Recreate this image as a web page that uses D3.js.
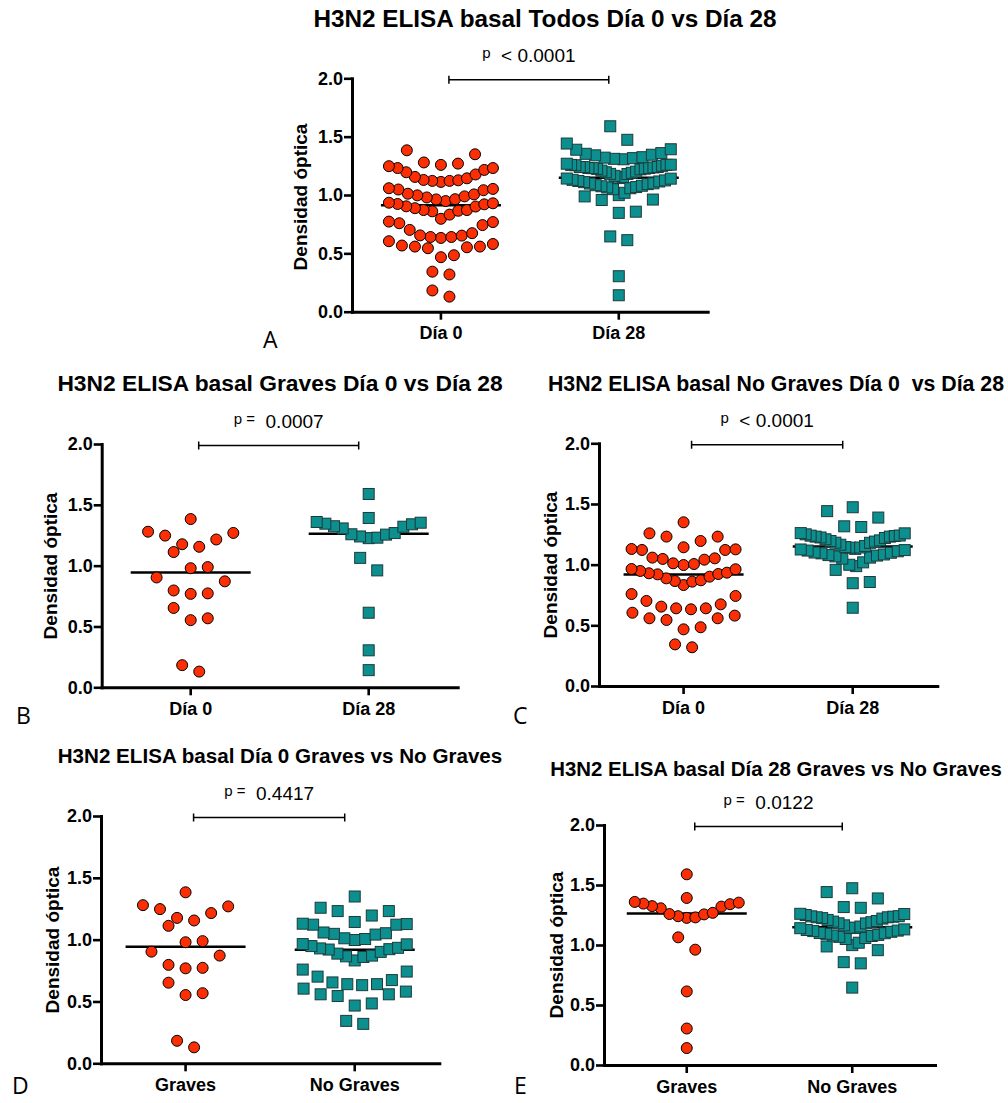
<!DOCTYPE html>
<html><head><meta charset="utf-8">
<script src="https://cdn.jsdelivr.net/npm/d3@7"></script>
<style>body{margin:0;background:#fff}svg{display:block}</style>
</head><body>
<svg id="c" width="1008" height="1103"></svg>
<script>
// ---------------- DATA ----------------
const gravesDia0 = [1.383, 1.269, 1.215, 1.155, 1.176, 1.112, 1.247, 1.279, 0.988, 0.979, 0.903, 0.871, 0.796, 0.768, 0.772, 0.652, 0.567, 0.552, 0.129, 0.182];
const gravesDia28 = [1.589, 1.392, 1.359, 1.345, 1.324, 1.306, 1.258, 1.240, 1.226, 1.230, 1.255, 1.268, 1.320, 1.340, 1.353, 1.064, 0.961, 0.613, 0.304, 0.141];
const noGravesDia0 = [1.349, 1.258, 1.231, 1.231, 1.195, 1.143, 1.129, 1.121, 1.121, 1.126, 1.058, 1.047, 1.052, 1.041, 1.011, 0.997, 1.005, 0.962, 0.934, 0.920, 0.964, 0.948, 0.923, 0.901, 0.887, 0.860, 0.832, 0.865, 0.871, 0.758, 0.742, 0.701, 0.654, 0.640, 0.640, 0.673, 0.632, 0.604, 0.558, 0.544, 0.558, 0.580, 0.467, 0.484, 0.319, 0.343, 0.929];
const noGravesDia28 = [1.473, 1.388, 1.441, 1.310, 1.316, 1.250, 1.236, 1.231, 1.209, 1.190, 1.181, 1.195, 1.224, 1.231, 1.239, 1.258, 1.164, 1.141, 1.116, 1.093, 1.084, 1.058, 1.019, 1.068, 1.079, 1.098, 1.140, 1.154, 0.988, 0.957, 0.999, 0.857, 0.847, 0.645, 1.100, 1.120, 1.130, 1.075, 1.050, 1.110, 1.125, 1.145, 1.200, 1.220, 1.240, 1.260, 1.180];
const todosDia0 = gravesDia0.concat(noGravesDia0);
const todosDia28 = gravesDia28.concat(noGravesDia28);

const yTicks = [0, 0.5, 1.0, 1.5, 2.0];
const dayCategories = ["Día 0", "Día 28"];
const groupCategories = ["Graves", "No Graves"];
const panelLetters = ["A", "B", "C", "D", "E"];
const panelTitles = [
  "H3N2 ELISA basal Todos Día 0 vs Día 28",
  "H3N2 ELISA basal Graves Día 0 vs Día 28",
  "H3N2 ELISA basal No Graves Día 0  vs Día 28",
  "H3N2 ELISA basal Día 0 Graves vs No Graves",
  "H3N2 ELISA basal Día 28 Graves vs No Graves"
];
const pPrefix = ["p", "p =", "p", "p =", "p ="];
const pValues = ["  < 0.0001", "  0.0007", "  < 0.0001", "  0.4417", "  0.0122"];
// median lines [first group, second group]
const medianLines = [[0.912, 1.148], [0.943, 1.262], [0.918, 1.150], [0.943, 0.918], [1.262, 1.147]];
const yAxisTitle = "Densidad óptica";

// ---------------- LAYOUT ----------------
const panels = [
  {cats: dayCategories,   series: [todosDia0, todosDia28],     x0: 352,   x1: 707.7, yTop: 78.3, yBot: 311.7,
   title: [545, 27, 24.3], ytitle: [307, 197], letter: [263, 348]},
  {cats: dayCategories,   series: [gravesDia0, gravesDia28],   x0: 101.7, x1: 457.7, yTop: 444,  yBot: 687.3,
   title: [280, 391, 22.8], ytitle: [57, 566], letter: [16, 724]},
  {cats: dayCategories,   series: [noGravesDia0, noGravesDia28], x0: 599, x1: 937.3, yTop: 443.3, yBot: 686,
   title: [776, 391, 21.3], ytitle: [556.5, 565], letter: [513, 724]},
  {cats: groupCategories, series: [gravesDia0, noGravesDia0],  x0: 101,   x1: 439.3, yTop: 816,  yBot: 1063.3,
   title: [280, 763, 20.6], ytitle: [59, 940], letter: [12, 1094]},
  {cats: groupCategories, series: [gravesDia28, noGravesDia28], x0: 604, x1: 935,   yTop: 825,  yBot: 1065,
   title: [776, 776, 20.4], ytitle: [563, 945], letter: [514, 1094]}
];

const FONT = "'Liberation Sans', Arial, Helvetica, sans-serif";
const RED = "#fc2e04", TEAL = "#0b8f8f", TEAL_STROKE = "#1e3a3a";
const SYM = 11;

const svg = d3.select("#c");

// Prism-like row arrangement: points grouped into horizontal rows, lowest value in the
// centre, alternating outward; spread apart when room, compressed when crowded.
function swarm(values, y, cx, s, rowH, maxW) {
  const pts = values.map(v => ({v, py: y(v)})).sort((a, b) => a.v - b.v);
  const rows = []; let cur = null;
  for (const p of pts) {
    if (!cur || (cur.start - p.py) > rowH) { cur = {start: p.py, items: []}; rows.push(cur); }
    cur.items.push(p);
  }
  rows.forEach(r => {
    const n = r.items.length;
    const sp = n > 1 ? Math.min(s * 1.55, maxW / (n - 1)) : 0;
    r.items.forEach((p, k) => {
      let slot;
      if (n % 2 === 1) slot = k === 0 ? 0 : (k % 2 === 1 ? (k + 1) / 2 : -k / 2);
      else { const m = Math.floor(k / 2); slot = k % 2 === 0 ? m + 0.5 : -(m + 0.5); }
      p.px = cx + slot * sp;
    });
  });
  return pts;
}

panels.forEach((P, i) => {
  const g = svg.append("g");
  const x = d3.scaleBand().domain(P.cats).range([P.x0, P.x1]).padding(0);
  const y = d3.scaleLinear().domain([0, 2]).range([P.yBot, P.yTop]);
  const cx = c => x(c) + x.bandwidth() / 2;

  // title
  g.append("text").attr("x", P.title[0]).attr("y", P.title[1])
    .attr("text-anchor", "middle").attr("font-family", FONT).attr("font-weight", "bold")
    .attr("font-size", P.title[2]).style("white-space", "pre").text(panelTitles[i]);

  // y axis
  const ya = g.append("g").attr("transform", `translate(${P.x0},0)`)
    .call(d3.axisLeft(y).tickValues(yTicks).tickFormat(d3.format(".1f")).tickSize(8).tickSizeOuter(0).tickPadding(1));
  // x axis
  const xa = g.append("g").attr("transform", `translate(0,${P.yBot})`)
    .call(d3.axisBottom(x).tickSize(8).tickSizeOuter(0).tickPadding(7));
  [ya, xa].forEach(a => {
    a.select(".domain").attr("stroke", "#000").attr("stroke-width", 3).attr("stroke-linecap", "square");
    a.selectAll(".tick line").attr("stroke", "#000").attr("stroke-width", 2.6);
    a.selectAll(".tick text").attr("font-family", FONT).attr("font-weight", "bold")
      .attr("font-size", 18).attr("fill", "#000");
  });

  // y axis title
  g.append("text").attr("transform", `translate(${P.ytitle[0]},${P.ytitle[1]}) rotate(-90)`)
    .attr("text-anchor", "middle").attr("font-family", FONT).attr("font-weight", "bold")
    .attr("font-size", 19).text(yAxisTitle);

  // median lines
  P.cats.forEach((c, j) => {
    g.append("line").attr("x1", cx(c) - 60).attr("x2", cx(c) + 60)
      .attr("y1", y(medianLines[i][j])).attr("y2", y(medianLines[i][j]))
      .attr("stroke", "#000").attr("stroke-width", 2.5);
  });

  // points
  P.cats.forEach((c, j) => {
    const pts = swarm(P.series[j], y, cx(c), SYM, 17, 104);
    if (j === 0) {
      g.append("g").selectAll("circle").data(pts).join("circle")
        .attr("cx", d => d.px).attr("cy", d => d.py).attr("r", SYM / 2)
        .attr("fill", RED).attr("stroke", "#000").attr("stroke-width", 1);
    } else {
      g.append("g").selectAll("rect").data(pts).join("rect")
        .attr("x", d => d.px - SYM / 2).attr("y", d => d.py - SYM / 2)
        .attr("width", SYM).attr("height", SYM)
        .attr("fill", TEAL).attr("stroke", TEAL_STROKE).attr("stroke-width", 1);
    }
  });

  // significance bracket
  const bx0 = cx(P.cats[0]) + 8, bx1 = cx(P.cats[1]) - 10, by = y(2) + 1.5;
  g.append("path").attr("d", `M${bx0},${by - 4}V${by + 4}M${bx0},${by}H${bx1}M${bx1},${by - 4}V${by + 4}`)
    .attr("stroke", "#000").attr("stroke-width", 1.5).attr("fill", "none");
  const pt = g.append("text").attr("x", (bx0 + bx1) / 2).attr("y", by - 18)
    .attr("text-anchor", "middle").attr("font-family", FONT).style("white-space", "pre");
  pt.append("tspan").attr("font-size", 15).attr("dy", -4).text(pPrefix[i]);
  pt.append("tspan").attr("font-size", 19).attr("dy", 4).text(pValues[i]);

  // panel letter
  g.append("text").attr("x", P.letter[0]).attr("y", P.letter[1])
    .attr("font-family", "'Open Sans', 'Liberation Sans', sans-serif").attr("font-size", 23)
    .text(panelLetters[i]);
});
</script>
</body></html>
